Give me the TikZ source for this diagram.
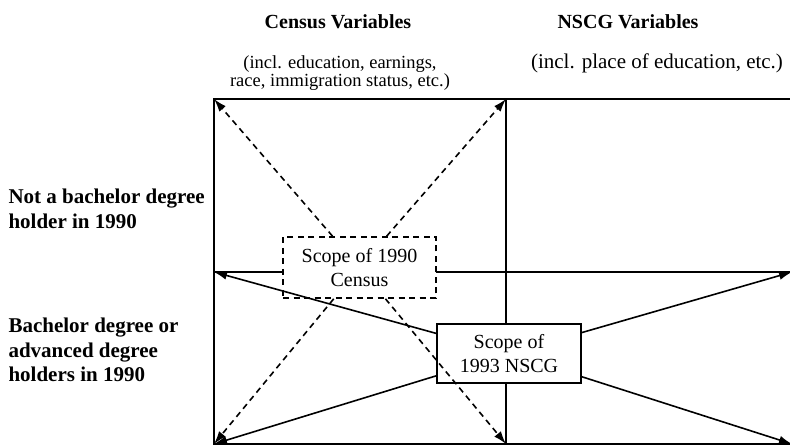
\documentclass[tikz,border=0pt]{standalone}
\usepackage{fontspec}
\setmainfont{Liberation Serif}
\usetikzlibrary{arrows.meta}
\newcommand{\gridwidth}{1.6pt}

\begin{document}
\begin{tikzpicture}[x=1pt,y=-1pt,font=\fontsize{20}{24}\selectfont,
  scopebox/.style={draw,fill=white,line width=\gridwidth,align=center,inner sep=0pt},
  dashline/.style={dash pattern=on 6pt off 4.5pt},
  tipped/.style={-{Latex[length=13pt,width=8.5pt]},line width=\gridwidth}]
\useasboundingbox (0,0) rectangle (790,446);
% corners of the grid
\coordinate (tl) at (214,99);
\coordinate (tm) at (506,99);
\coordinate (tr) at (790,99);
\coordinate (ml) at (214,272);
\coordinate (mr) at (792,272);
\coordinate (bl) at (214,444);
\coordinate (bm) at (506,444);
\coordinate (br) at (792,444);
%grid
\draw[line width=\gridwidth] (tr) -- (tl) -- (bl) -- (790,444);
\draw[line width=\gridwidth] (ml) -- (790,272);
\draw[line width=\gridwidth] (tm) -- (bm);
%headings
\node (censushead) at (338,22) {\textbf{Census Variables}};
\node (nscghead) at (628,22) {\textbf{NSCG Variables}};
\node[align=center,font=\fontsize{18.5}{17.5}\selectfont] (censusvars) at (340,73) {(incl. education, earnings,\\race, immigration status, etc.)};
\node[font=\fontsize{21}{24}\selectfont] (nscgvars) at (657,63) {(incl. place of education, etc.)};
\node[anchor=west,align=left,font=\fontsize{21}{25}\selectfont\bfseries] (notba) at (5,209) {Not a bachelor degree\\holder in 1990};
\node[anchor=west,align=left,font=\fontsize{21}{24.5}\selectfont\bfseries] (ba) at (5,350) {Bachelor degree or\\advanced degree\\holders in 1990};
%scopes
\node[scopebox,dashline,minimum width=153pt,minimum height=61pt] (census) at (359.5,267.5) {Scope of 1990\\Census};
\node[scopebox,minimum width=144pt,minimum height=59pt] (nscg) at (509,353.5) {Scope of\\1993 NSCG};
%census arrows
\draw[tipped,dashline] (census) -- (tl);
\draw[tipped,dashline] (census) -- (tm);
\draw[tipped,dashline] (census) -- (bl);
\draw[tipped,dashline] (census) -- (bm);
%nscg arrows
\draw[tipped] (nscg) -- (ml);
\draw[tipped] (nscg) -- (bl);
\draw[tipped] (nscg) -- (mr);
\draw[tipped] (nscg) -- (br);
\end{tikzpicture}
\end{document}
